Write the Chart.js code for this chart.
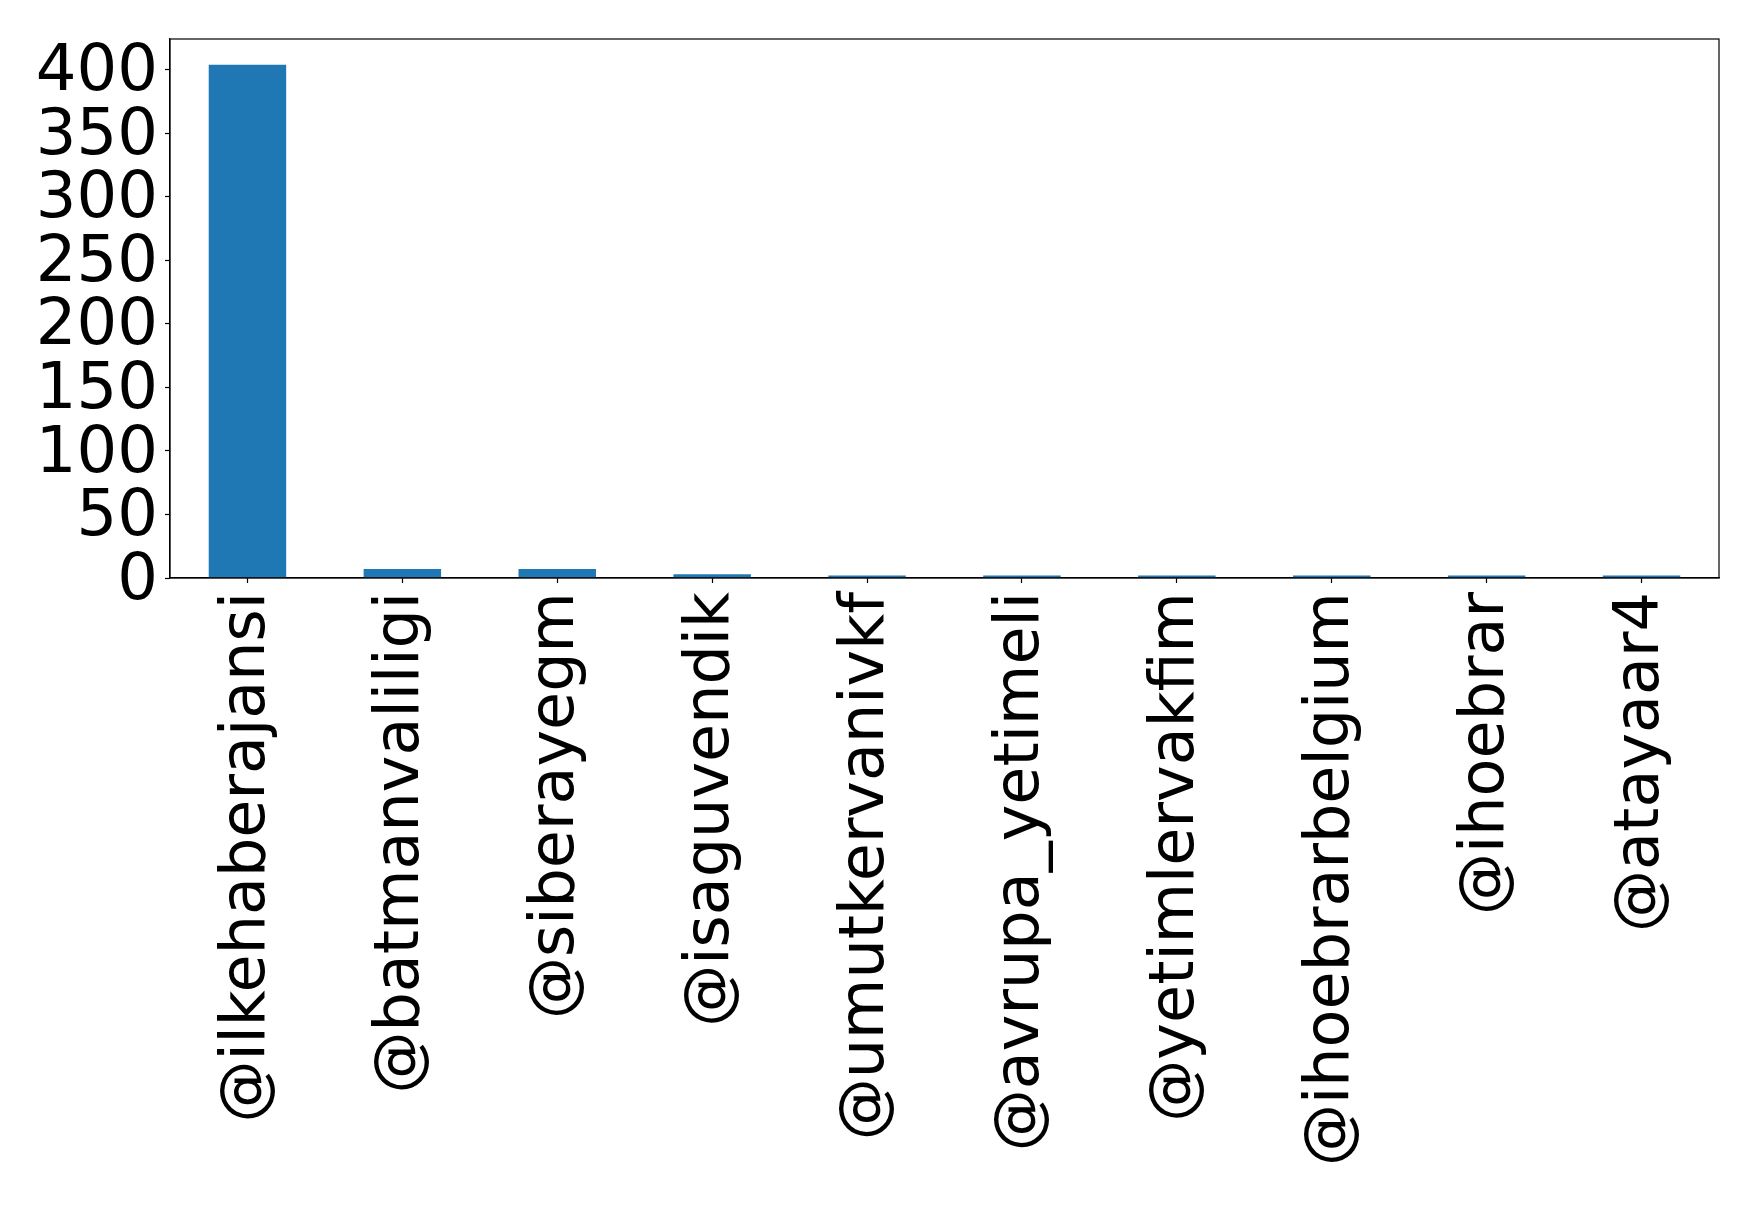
<!DOCTYPE html>
<html>
<head>
<meta charset="utf-8">
<script src="https://cdn.jsdelivr.net/npm/chart.js@4/dist/chart.umd.min.js"></script>
<style>
html, body { margin: 0; padding: 0; background: #ffffff; }
canvas { display: block; }
</style>
</head>
<body>
<canvas id="c" width="1759" height="1206"></canvas>
<script>
const categories = ['@ilkehaberajansi', '@batmanvaliligi', '@siberayegm', '@isaguvendik', '@umutkervanivkf', '@avrupa_yetimeli', '@yetimlervakfim', '@ihoebrarbelgium', '@ihoebrar', '@atayaar4'];
const counts = [404, 7, 7, 3, 2, 2, 2, 2, 2, 2];
const yTicks = [0, 50, 100, 150, 200, 250, 300, 350, 400];
const yMax = 424.2;

const frame = {
  id: 'frame',
  afterDraw(chart) {
    const a = chart.chartArea;
    const ctx = chart.ctx;
    ctx.save();
    ctx.strokeStyle = '#000';
    ctx.lineWidth = 1.2;
    ctx.strokeRect(a.left, a.top, a.right - a.left, a.bottom - a.top);
    ctx.restore();
  }
};

new Chart(document.getElementById('c'), {
  type: 'bar',
  data: {
    labels: categories,
    datasets: [{
      data: counts,
      backgroundColor: '#1f77b4',
      borderWidth: 0,
      barPercentage: 0.5,
      categoryPercentage: 1.0
    }]
  },
  options: {
    responsive: false,
    devicePixelRatio: 1,
    animation: false,
    layout: { padding: { top: 39, right: 40, left: 0, bottom: 0 } },
    plugins: { legend: { display: false }, tooltip: { enabled: false } },
    scales: {
      x: {
        type: 'category',
        offset: true,
        grid: { offset: false, drawOnChartArea: false, drawTicks: true, tickLength: 5, tickWidth: 1.2, tickColor: '#000' },
        border: { display: true, color: '#000', width: 1.2 },
        ticks: {
          color: '#000',
          font: { family: 'DejaVu Sans', size: 62 },
          minRotation: 90,
          maxRotation: 90,
          autoSkip: false,
          padding: 9
        },
        afterFit(scale) {
          scale.height = 628;
          scale.paddingLeft = 0; scale.paddingRight = 0;
        }
      },
      y: {
        min: 0,
        max: yMax,
        grid: { drawOnChartArea: false, drawTicks: true, tickLength: 5, tickWidth: 1.2, tickColor: '#000' },
        border: { display: true, color: '#000', width: 1.2 },
        ticks: {
          color: '#000',
          font: { family: 'DejaVu Sans', size: 64, lineHeight: '8px' },
          padding: 7,
          autoSkip: false,
          callback: (v) => ['', String(v)]
        },
        afterBuildTicks(scale) { scale.ticks = yTicks.map(v => ({ value: v })); },
        afterFit(scale) {
          scale.width = 170;
          scale.paddingTop = 0; scale.paddingBottom = 0;
        }
      }
    }
  },
  plugins: [frame]
});
</script>
</body>
</html>
